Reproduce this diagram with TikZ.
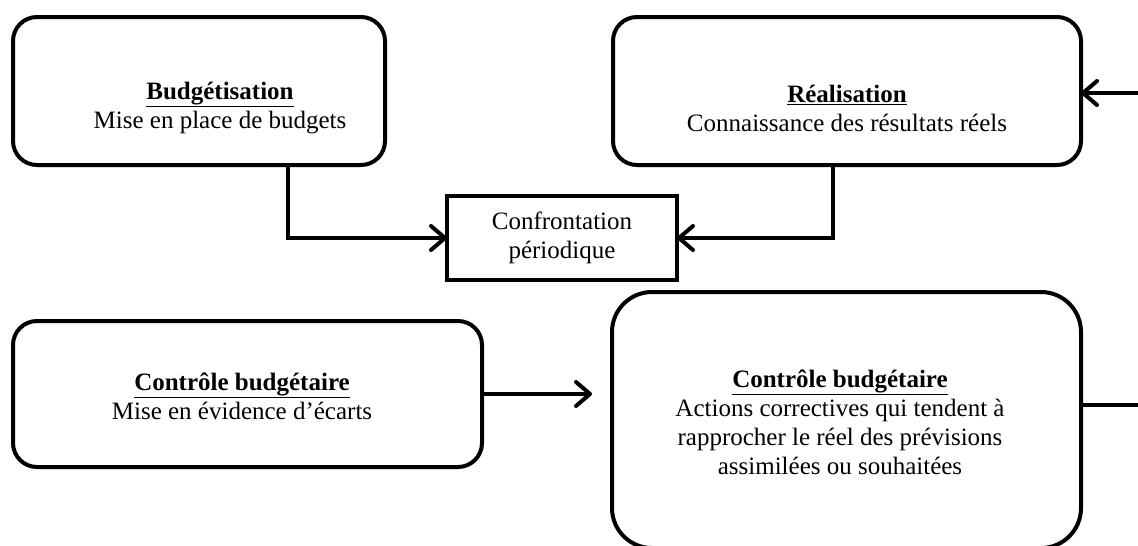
\documentclass[tikz,border=0pt]{standalone}
\usepackage{fontspec}
\setmainfont{Liberation Serif}
\usetikzlibrary{arrows.meta,calc}
\begin{document}
\begin{tikzpicture}[x=1pt,y=-1pt,
  box/.style={draw, line width=4pt, rounded corners=24pt, inner sep=0pt, outer sep=0pt},
  bigbox/.style={draw, line width=4pt, rounded corners=40pt, inner sep=0pt, outer sep=0pt},
  plainbox/.style={draw, line width=4pt, inner sep=0pt, outer sep=0pt},
  txt/.style={align=center, inner sep=0pt, font=\fontsize{25}{29}\selectfont},
  conn/.style={line width=4pt},
  arr/.style={line width=4pt, -{Straight Barb[length=14pt,width=24pt,line cap=round,line join=round]}}
]
\useasboundingbox (0,0) rectangle (1138,546);
\clip (0,0) rectangle (1138,546);
% boxes
\node[box, minimum width=372pt, minimum height=148pt] (b1) at (199,91) {};
\node[box, minimum width=468pt, minimum height=148pt] (b2) at (847,91) {};
\node[plainbox, minimum width=230pt, minimum height=84pt] (conf) at (562,238) {};
\node[box, minimum width=469pt, minimum height=146pt] (b3) at (247.5,394) {};
\node[bigbox, minimum width=469pt, minimum height=256pt] (big) at (846.5,420) {};
% texts
\node[txt] (t1) at (220,108) {\textbf{\underline{Budgétisation}}\\Mise en place de budgets};
\node[txt] (t2) at (847,108) {\textbf{\underline{Réalisation}}\\Connaissance des résultats réels};
\node[txt] (tc) at (562,238) {Confrontation\\périodique};
\node[txt] (t3) at (242,396) {\textbf{\underline{Contrôle budgétaire}}\\Mise en évidence d’écarts};
\node[txt] (t4) at (840,422) {\textbf{\underline{Contrôle budgétaire}}\\Actions correctives qui tendent à\\rapprocher le réel des prévisions\\assimilées ou souhaitées};
% connectors
\coordinate (k1) at (288,0);
\coordinate (k2) at (833,0);
\draw[arr] (b1.south -| k1) |- (conf.west);
\draw[arr] (b2.south -| k2) |- (conf.east);
\draw[arr, shorten >=20pt] (b3.east) -- (b3.east -| big.west);
\coordinate (outA) at (1160,93);
\coordinate (outB) at (1160,405);
\draw[arr] (outA) -- (outA -| b2.east);
\draw[conn] (outB -| big.east) -- (outB);
\end{tikzpicture}
\end{document}
